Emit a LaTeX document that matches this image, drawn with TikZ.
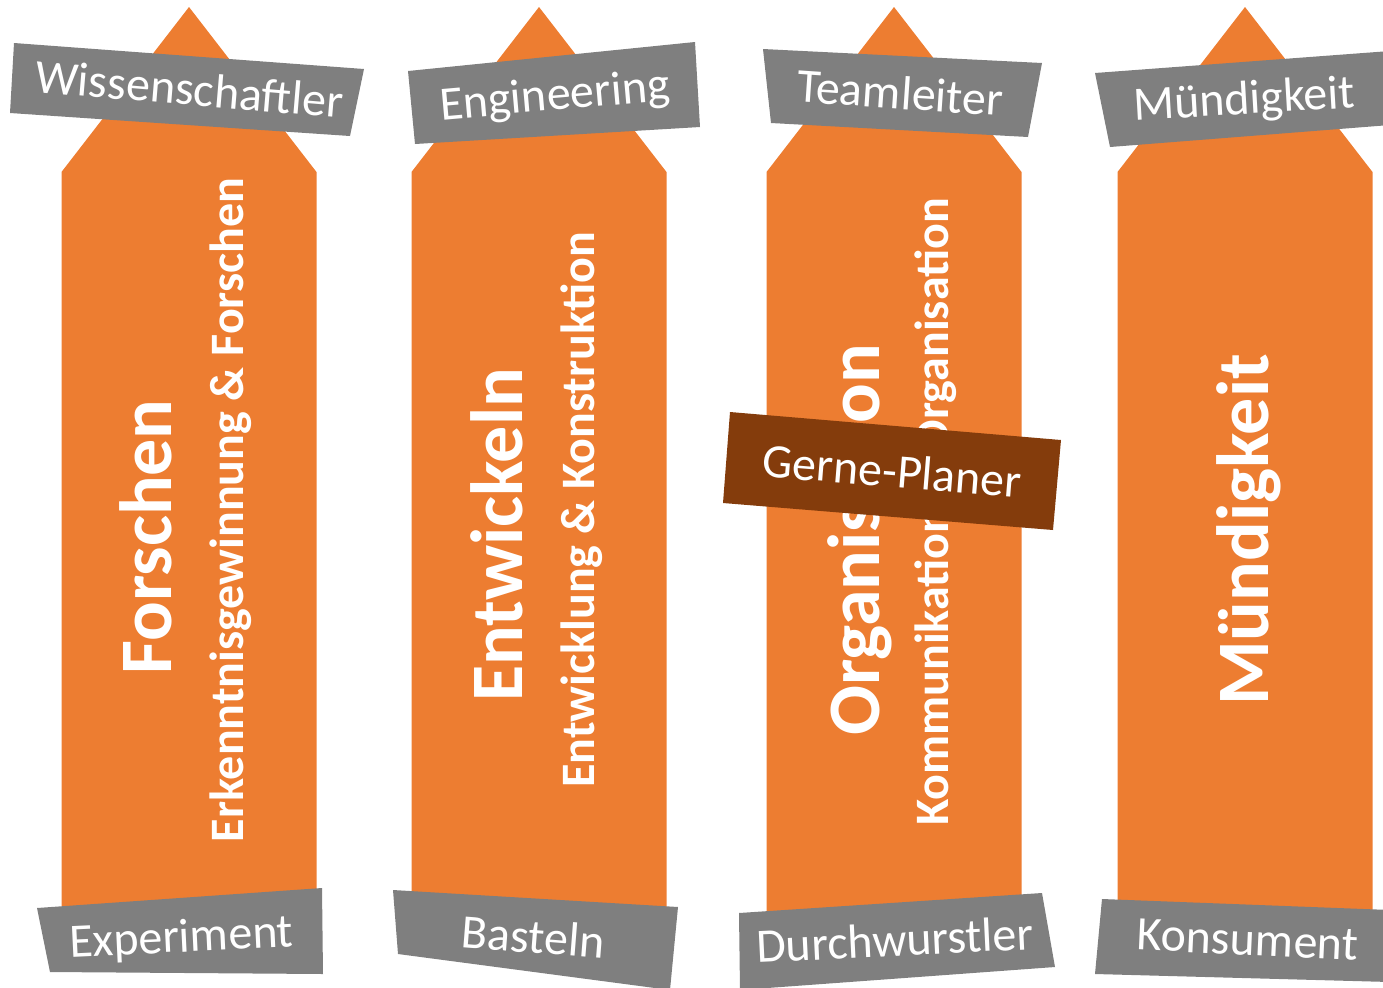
\documentclass[tikz,border=0pt]{standalone}
\usepackage{fontspec}
\setmainfont{Carlito}
\usepackage{tikz}

\definecolor{naranja}{HTML}{ED7D31}
\definecolor{gris}{HTML}{7F7F7F}
\definecolor{cafe}{HTML}{843C0C}

\begin{document}
\begin{tikzpicture}[x = 0.5pt, y = -0.5pt,
    lapiz/.style = {fill = naranja},
    etiqueta/.style = {fill = gris},
    txtEtiqueta/.style = {text = white, inner sep = 0pt, anchor = base, font = \fontsize{24}{28}\selectfont},
    titulo/.style = {text = white, inner sep = 0pt, anchor = base, rotate = 90, font = \fontsize{37}{44}\selectfont\bfseries},
    subtitulo/.style = {text = white, inner sep = 0pt, anchor = base, rotate = 90, font = \fontsize{24}{28}\selectfont\bfseries}]
    % Medidas del lápiz (en píxeles, y hacia abajo).
    \pgfmathsetmacro{\anchoL}{127.5}
    \pgfmathsetmacro{\punta}{7}
    \pgfmathsetmacro{\hombro}{172}
    \pgfmathsetmacro{\fondo}{930}

    \clip (0, 0) rectangle (1383, 987);

    % Primer lápiz:
    \begin{scope}[shift = {(189, 0)}]
        \fill[lapiz] (-\anchoL, \fondo) -- (-\anchoL, \hombro) -- (0, \punta) -- (\anchoL, \hombro) -- (\anchoL, \fondo) -- cycle;
    \end{scope}
    \node[titulo] (forschen) at (171, 537) {Forschen};
    \node[subtitulo] (erkenntnis) at (243, 510) {Erkenntnisgewinnung \& Forschen};

    % Segundo lápiz:
    \begin{scope}[shift = {(539, 0)}]
        \fill[lapiz] (-\anchoL, \fondo) -- (-\anchoL, \hombro) -- (0, \punta) -- (\anchoL, \hombro) -- (\anchoL, \fondo) -- cycle;
    \end{scope}
    \node[titulo] (entwickeln) at (522, 535) {Entwickeln};
    \node[subtitulo] (entwicklung) at (594, 510) {Entwicklung \& Konstruktion};

    % Tercer lápiz:
    \begin{scope}[shift = {(894, 0)}]
        \fill[lapiz] (-\anchoL, \fondo) -- (-\anchoL, \hombro) -- (0, \punta) -- (\anchoL, \hombro) -- (\anchoL, \fondo) -- cycle;
    \end{scope}
    \node[titulo] (organisation) at (879, 540) {Organisation};
    \node[subtitulo] (kommunikation) at (948, 512) {Kommunikation \& Organisation};

    % Cuarto lápiz:
    \begin{scope}[shift = {(1245, 0)}]
        \fill[lapiz] (-\anchoL, \fondo) -- (-\anchoL, \hombro) -- (0, \punta) -- (\anchoL, \hombro) -- (\anchoL, \fondo) -- cycle;
    \end{scope}
    \node[titulo] (muendigkeit) at (1268, 530) {Mündigkeit};

    % Etiquetas de arriba:
    \fill[etiqueta] (14, 43) -- (364, 69) -- (350, 136) -- (10, 113) -- cycle;
    \node[txtEtiqueta, rotate = -4.8] (wissenschaftler) at (188, 105) {Wissenschaftler};

    \fill[etiqueta] (408, 71) -- (695, 42) -- (700, 127) -- (415, 144) -- cycle;
    \node[txtEtiqueta, rotate = 5] (engineering) at (556, 110) {Engineering};

    \fill[etiqueta] (763, 49) -- (1042, 63) -- (1028, 137) -- (771, 123) -- cycle;
    \node[txtEtiqueta, rotate = -3.9] (teamleiter) at (899, 109) {Teamleiter};

    \fill[etiqueta] (1095, 73) -- (1390, 51) -- (1390, 125) -- (1110, 147) -- cycle;
    \node[txtEtiqueta, rotate = 3.3] (muendigkeitTag) at (1245, 114) {Mündigkeit};

    % Etiquetas de abajo:
    \fill[etiqueta] (37, 908) -- (322, 888) -- (323, 974) -- (50, 972) -- cycle;
    \node[txtEtiqueta, rotate = 2.7] (experiment) at (182, 952) {Experiment};

    \fill[etiqueta] (393, 890) -- (678, 907) -- (670, 990) -- (398, 954) -- cycle;
    \node[txtEtiqueta, rotate = -4.5] (basteln) at (532, 953) {Basteln};

    \fill[etiqueta] (739, 913) -- (1042, 893) -- (1055, 967) -- (740, 990) -- cycle;
    \node[txtEtiqueta, rotate = 2.8] (durchwurstler) at (896, 956) {Durchwurstler};

    \fill[etiqueta] (1102, 899) -- (1390, 910) -- (1390, 982) -- (1095, 974) -- cycle;
    \node[txtEtiqueta, rotate = -2.7] (konsument) at (1247, 955) {Konsument};

    % La etiqueta café va encima del tercer lápiz.
    \fill[cafe] (730, 412) -- (1061, 440) -- (1053, 530) -- (723, 503) -- cycle;
    \node[txtEtiqueta, rotate = -4.6] (planer) at (891, 487) {Gerne-Planer};
\end{tikzpicture}
\end{document}
